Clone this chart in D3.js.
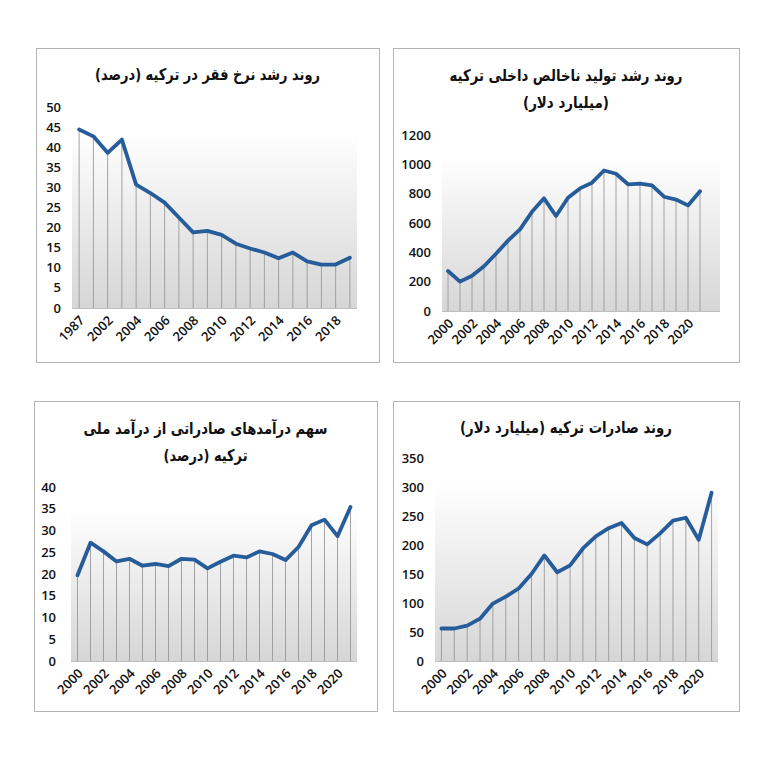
<!DOCTYPE html>
<html>
<head>
<meta charset="utf-8">
<script src="https://cdn.jsdelivr.net/npm/d3@7"></script>
<style>
  body { margin: 0; background: #fff; }
  svg { display: block; }
</style>
</head>
<body>
<svg id="chart"></svg>
<script>
// ---------------- 데이터 ----------------
const povertyYears = ["1987","2001","2002","2003","2004","2005","2006","2007","2008","2009",
	"2010","2011","2012","2013","2014","2015","2016","2017","2018","2019"];
const povertyRate = [44.4, 42.7, 38.6, 41.9, 30.7, 28.6, 26.2, 22.5, 18.8, 19.2,
	18.2, 16.0, 14.8, 13.8, 12.4, 13.8, 11.6, 10.8, 10.8, 12.5];

const years = ["2000","2001","2002","2003","2004","2005","2006","2007","2008","2009","2010",
	"2011","2012","2013","2014","2015","2016","2017","2018","2019","2020","2021"];
const gdp = [273, 200, 240, 305, 390, 480, 557, 676, 768, 648, 772,
	836, 875, 958, 936, 864, 869, 857, 779, 760, 720, 816];
const exportShare = [19.7, 27.2, 25.2, 22.9, 23.5, 21.9, 22.3, 21.8, 23.5, 23.3, 21.3,
	22.8, 24.2, 23.8, 25.2, 24.6, 23.2, 26.2, 31.2, 32.5, 28.7, 35.4];
const exportsBn = [56, 56, 61, 73, 99, 111, 125, 150, 182, 153, 165,
	194, 215, 229, 238, 212, 201, 220, 242, 247, 209, 290];

const povertyTicks = [0, 5, 10, 15, 20, 25, 30, 35, 40, 45, 50];
const gdpTicks = [0, 200, 400, 600, 800, 1000, 1200];
const shareTicks = [0, 5, 10, 15, 20, 25, 30, 35, 40];
const exportTicks = [0, 50, 100, 150, 200, 250, 300, 350];

const titlePoverty = ["روند رشد نرخ فقر در ترکیه (درصد)"];
const titleGdp = ["روند رشد تولید ناخالص داخلی ترکیه", "(میلیارد دلار)"];
const titleShare = ["سهم درآمدهای صادراتی از درآمد ملی", "ترکیه (درصد)"];
const titleExports = ["روند صادرات ترکیه (میلیارد دلار)"];

// ---------------- 패널 배치 ----------------
const panels = [
	{ box: [36, 48, 343, 314], plot: { left: 72, right: 357, top: 107, bottom: 308, extra: 0 },
	  labelX: 61, titleY: [74], titleW: [225], title: titlePoverty, cats: povertyYears, values: povertyRate, ticks: povertyTicks },
	{ box: [393, 48, 346, 314], plot: { left: 442, right: 720, top: 135, bottom: 311, extra: 14 },
	  labelX: 431, titleY: [75, 102], titleW: [233, 86], title: titleGdp, cats: years, values: gdp, ticks: gdpTicks },
	{ box: [34, 401, 343, 310], plot: { left: 71, right: 357, top: 487, bottom: 661, extra: 0 },
	  labelX: 56, titleY: [428, 455], titleW: [244, 84], title: titleShare, cats: years, values: exportShare, ticks: shareTicks },
	{ box: [393, 401, 346, 310], plot: { left: 435, right: 718, top: 458, bottom: 661, extra: 0 },
	  labelX: 424, titleY: [427], titleW: [212], title: titleExports, cats: years, values: exportsBn, ticks: exportTicks }
];

const svg = d3.select("#chart")
	.attr("width", 761)
	.attr("height", 782);

svg.append("rect")
	.attr("width", 761).attr("height", 782)
	.attr("fill", "#fff");

// 플롯 배경 그라데이션
const grad = svg.append("defs").append("linearGradient")
	.attr("id", "plotGrad")
	.attr("x1", 0).attr("y1", 0).attr("x2", 0).attr("y2", 1);
grad.append("stop").attr("offset", "0.12").attr("stop-color", "#ffffff");
grad.append("stop").attr("offset", "1").attr("stop-color", "#d6d6d6");

const lineColor = "#265c99";
const textColor = "#111";
const tickFont = "'Open Sans', 'DejaVu Sans', sans-serif";

panels.forEach(p => {
	const g = svg.append("g");
	const [bx, by, bw, bh] = p.box;

	// 테두리
	g.append("rect")
		.attr("x", bx + 0.5).attr("y", by + 0.5)
		.attr("width", bw).attr("height", bh)
		.attr("fill", "#fff")
		.attr("stroke", "#b4b4b4")
		.attr("stroke-width", 1);

	// 제목
	p.title.forEach((t, i) => {
		g.append("text")
			.attr("x", bx + bw / 2)
			.attr("y", p.titleY[i])
			.attr("dy", "0.35em")
			.attr("direction", "rtl")
			.attr("text-anchor", "middle")
			.attr("textLength", p.titleW[i])
			.attr("lengthAdjust", "spacingAndGlyphs")
			.style("font-family", "'DejaVu Sans', 'Noto Sans', sans-serif")
			.style("font-size", "16px")
			.style("font-weight", "bold")
			.style("fill", textColor)
			.text(t);
	});

	const x = d3.scaleBand()
		.domain(p.cats)
		.range([p.plot.left, p.plot.right - p.plot.extra]);

	const y = d3.scaleLinear()
		.domain([0, d3.max(p.ticks)])
		.range([p.plot.bottom, p.plot.top]);

	const cx = d => x(d) + x.bandwidth() / 2;

	// 플롯 영역
	g.append("rect")
		.attr("x", p.plot.left)
		.attr("y", p.plot.top)
		.attr("width", p.plot.right - p.plot.left)
		.attr("height", p.plot.bottom - p.plot.top)
		.attr("fill", "url(#plotGrad)");

	// 하강선
	g.selectAll(".drop")
		.data(p.cats)
		.enter().append("line")
		.attr("x1", cx).attr("x2", cx)
		.attr("y1", (d, i) => y(p.values[i]))
		.attr("y2", y(0))
		.attr("stroke", "#9a9a9a")
		.attr("stroke-width", 0.9);

	// x축 선
	g.append("line")
		.attr("x1", p.plot.left).attr("x2", p.plot.right)
		.attr("y1", y(0) + 0.5).attr("y2", y(0) + 0.5)
		.attr("stroke", "#bdbdbd");

	// y축 라벨
	g.selectAll(".ytick")
		.data(p.ticks)
		.enter().append("text")
		.attr("x", p.labelX)
		.attr("y", d => y(d))
		.attr("dy", "0.35em")
		.attr("text-anchor", "end")
		.style("font-family", tickFont)
		.style("font-size", "13px")
		.style("font-weight", 600)
		.style("fill", textColor)
		.text(d => d);

	// x축 라벨 (2개마다)
	g.selectAll(".xtick")
		.data(p.cats.filter((d, i) => i % 2 === 0))
		.enter().append("text")
		.attr("transform", d => `translate(${cx(d) + 3},${y(0) + 10}) rotate(-45)`)
		.attr("dy", "0.35em")
		.attr("text-anchor", "end")
		.style("font-family", tickFont)
		.style("font-size", "13px")
		.style("font-weight", 600)
		.style("fill", textColor)
		.text(d => d);

	// 선
	const line = d3.line()
		.x((d, i) => cx(p.cats[i]))
		.y(d => y(d));

	g.append("path")
		.datum(p.values)
		.attr("d", line)
		.attr("fill", "none")
		.attr("stroke", lineColor)
		.attr("stroke-width", 3.8)
		.attr("stroke-linejoin", "round")
		.attr("stroke-linecap", "round");
});
</script>
</body>
</html>
